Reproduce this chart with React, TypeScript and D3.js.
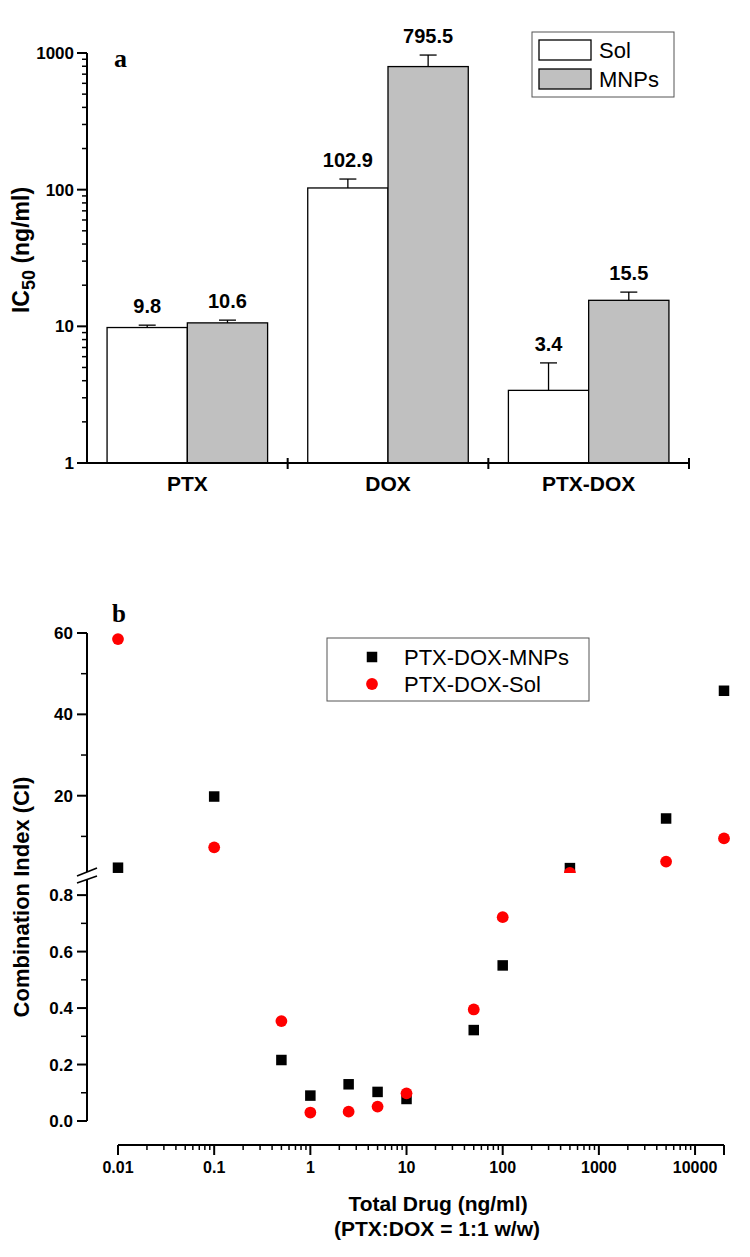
import React from 'react';
import * as d3 from 'd3';

// ---- Panel a data ----
const categories = ['PTX', 'DOX', 'PTX-DOX'];
const seriesNames = ['Sol', 'MNPs'];
const solValues = [9.8, 102.9, 3.4];
const mnpValues = [10.6, 795.5, 15.5];
const solErrTop = [10.2, 119.6, 5.4];
const mnpErrTop = [11.1, 966, 17.8];
const icTicks = [1, 10, 100, 1000];
const icTickLabels = ['1', '10', '100', '1000'];

// ---- Panel b data ----
const totalDrug = [0.01, 0.1, 0.5, 1, 2.5, 5, 10, 50, 100, 500, 5000, 20000];
const ciMNPs = [2.3, 19.8, 0.216, 0.09, 0.13, 0.103, 0.078, 0.322, 0.551, 2.2, 14.4, 45.8];
const ciSol = [58.5, 7.3, 0.354, 0.03, 0.033, 0.051, 0.098, 0.395, 0.722, 1.0, 3.8, 9.5];
const xTicks = [0.01, 0.1, 1, 10, 100, 1000, 10000];
const xTickLabels = ['0.01', '0.1', '1', '10', '100', '1000', '10000'];
const upperTicks = [20, 40, 60];
const upperMinor = [10, 30, 50];
const lowerTicks = [0, 0.2, 0.4, 0.6, 0.8];
const lowerTickLabels = ['0.0', '0.2', '0.4', '0.6', '0.8'];
const lowerMinor = [0.1, 0.3, 0.5, 0.7];
const legendB = ['PTX-DOX-MNPs', 'PTX-DOX-Sol'];

const SANS = '"Liberation Sans", Arial, sans-serif';
const SERIF = '"Liberation Serif", "Times New Roman", serif';

function logMinor(lo: number, hi: number) {
  const out: number[] = [];
  for (let d = lo; d < hi; d *= 10) {
    for (let k = 2; k <= 9; k++) {
      const v = +(d * k).toPrecision(6);
      if (v <= hi) out.push(v);
    }
  }
  return out;
}

export default function App() {
  // Panel a scales
  const aLeft = 87, aRight = 689, aTop = 53, aBottom = 463;
  const y = d3.scaleLog().domain([1, 1000]).range([aBottom, aTop]);
  const x0 = d3.scaleBand<string>().domain(categories).range([aLeft, aRight]).paddingInner(0.2).paddingOuter(0.1);
  const x1 = d3.scaleBand<string>().domain(seriesNames).range([0, x0.bandwidth()]).padding(0);
  const step = x0.step();
  const aMinor = logMinor(1, 1000);

  // Panel b scales
  const bAxisX = 87;
  const xb = d3.scaleLog().domain([0.01, 20000]).range([118, 724]);
  const yUp = d3.scaleLinear().domain([1, 60]).range([873, 633]);
  const yLow = d3.scaleLinear().domain([0, 0.85]).range([1121, 881]);
  const xAxisY = 1145;
  const bMinor = logMinor(0.01, 20000);

  const seriesVals = [solValues, mnpValues];
  const seriesErr = [solErrTop, mnpErrTop];
  const fills = ['#ffffff', '#c0c0c0'];

  const placeY = (v: number) => (v > 0.85 ? yUp(v) : yLow(v));
  const clipFor = (v: number) => (v > 0.85 ? 'url(#clipUp)' : 'url(#clipLow)');

  return (
    <svg width={750} height={1257} style={{ position: 'absolute', left: 0, top: 0, background: '#fff' }}
      fontFamily={SANS}>
      <defs>
        <clipPath id="clipUp"><rect x={88} y={600} width={662} height={273} /></clipPath>
        <clipPath id="clipLow"><rect x={88} y={880} width={662} height={260} /></clipPath>
      </defs>
      <rect x={0} y={0} width={750} height={1257} fill="#fff" />

      {/* ===== Panel a ===== */}
      {categories.map((c, i) => (
        <g key={c}>
          {seriesNames.map((s, j) => {
            const v = seriesVals[j][i];
            const e = seriesErr[j][i];
            const bx = (x0(c) as number) + (x1(s) as number);
            const bw = x1.bandwidth();
            const cx = bx + bw / 2;
            return (
              <g key={s}>
                <rect x={bx} y={y(v)} width={bw} height={aBottom - y(v)} fill={fills[j]} stroke="#000" strokeWidth={1.3} />
                <line x1={cx} x2={cx} y1={y(v)} y2={y(e)} stroke="#000" strokeWidth={1.3} />
                <line x1={cx - 8.5} x2={cx + 8.5} y1={y(e)} y2={y(e)} stroke="#000" strokeWidth={1.3} />
                <text x={cx} y={y(e) - 12} textAnchor="middle" fontWeight="bold" fontSize={20}>{String(v)}</text>
              </g>
            );
          })}
          <text x={(x0(c) as number) + x0.bandwidth() / 2} y={491} textAnchor="middle" fontWeight="bold" fontSize={21}>{c}</text>
          <line x1={aLeft + step * (i + 1)} x2={aLeft + step * (i + 1)} y1={aBottom - 5} y2={aBottom + 6} stroke="#000" strokeWidth={2} />
        </g>
      ))}
      {/* axes a */}
      <line x1={aLeft} x2={aLeft} y1={aTop} y2={aBottom} stroke="#000" strokeWidth={2} />
      <line x1={aLeft - 1} x2={aRight} y1={aBottom} y2={aBottom} stroke="#000" strokeWidth={2} />
      {icTicks.map((t, i) => (
        <g key={t}>
          <line x1={aLeft - 10} x2={aLeft} y1={y(t)} y2={y(t)} stroke="#000" strokeWidth={2} />
          <text x={aLeft - 13} y={y(t)} dy="0.36em" textAnchor="end" fontWeight="bold" fontSize={17}>{icTickLabels[i]}</text>
        </g>
      ))}
      {aMinor.map((t) => (
        <line key={t} x1={aLeft - 5} x2={aLeft} y1={y(t)} y2={y(t)} stroke="#000" strokeWidth={1.5} />
      ))}
      <text transform={`translate(29,250) rotate(-90)`} textAnchor="middle" fontWeight="bold" fontSize={23}>
        IC<tspan dy={6} fontSize={18}>50</tspan><tspan dy={-6}> (ng/ml)</tspan>
      </text>
      <text x={114} y={67} fontFamily={SERIF} fontWeight="bold" fontSize={26}>a</text>
      {/* legend a */}
      <rect x={532} y={32} width={142} height={65} fill="#fff" stroke="#555" strokeWidth={1} />
      {seriesNames.map((s, j) => (
        <g key={s}>
          <rect x={539} y={40 + j * 29} width={52} height={20} fill={fills[j]} stroke="#000" strokeWidth={1.3} />
          <text x={599} y={58 + j * 29} fontSize={22}>{s}</text>
        </g>
      ))}

      {/* ===== Panel b ===== */}
      {/* y axis upper */}
      <line x1={bAxisX} x2={bAxisX} y1={yUp(60)} y2={872} stroke="#000" strokeWidth={2} />
      <line x1={bAxisX} x2={bAxisX} y1={880} y2={yLow(0)} stroke="#000" strokeWidth={2} />
      <line x1={77} x2={97} y1={876} y2={868} stroke="#000" strokeWidth={1.6} />
      <line x1={77} x2={97} y1={883} y2={876} stroke="#000" strokeWidth={1.6} />
      {upperTicks.map((t) => (
        <g key={t}>
          <line x1={bAxisX - 10} x2={bAxisX} y1={yUp(t)} y2={yUp(t)} stroke="#000" strokeWidth={2} />
          <text x={bAxisX - 14} y={yUp(t)} dy="0.36em" textAnchor="end" fontWeight="bold" fontSize={17}>{String(t)}</text>
        </g>
      ))}
      {upperMinor.map((t) => (
        <line key={t} x1={bAxisX - 6} x2={bAxisX} y1={yUp(t)} y2={yUp(t)} stroke="#000" strokeWidth={1.5} />
      ))}
      {lowerTicks.map((t, i) => (
        <g key={t}>
          <line x1={bAxisX - 10} x2={bAxisX} y1={yLow(t)} y2={yLow(t)} stroke="#000" strokeWidth={2} />
          <text x={bAxisX - 14} y={yLow(t)} dy="0.36em" textAnchor="end" fontWeight="bold" fontSize={17}>{lowerTickLabels[i]}</text>
        </g>
      ))}
      {lowerMinor.map((t) => (
        <line key={t} x1={bAxisX - 6} x2={bAxisX} y1={yLow(t)} y2={yLow(t)} stroke="#000" strokeWidth={1.5} />
      ))}
      {/* x axis */}
      <line x1={xb(0.01)} x2={xb(20000)} y1={xAxisY} y2={xAxisY} stroke="#000" strokeWidth={2} />
      {xTicks.map((t, i) => (
        <g key={t}>
          <line x1={xb(t)} x2={xb(t)} y1={xAxisY} y2={xAxisY + 10} stroke="#000" strokeWidth={2} />
          <text x={xb(t)} y={1173} textAnchor="middle" fontWeight="bold" fontSize={16}>{xTickLabels[i]}</text>
        </g>
      ))}
      {bMinor.map((t) => (
        <line key={t} x1={xb(t)} x2={xb(t)} y1={xAxisY} y2={xAxisY + 5} stroke="#000" strokeWidth={1.5} />
      ))}
      <line x1={xb(20000)} x2={xb(20000)} y1={xAxisY} y2={xAxisY + 10} stroke="#000" strokeWidth={2} />
      <text x={438} y={1211} textAnchor="middle" fontWeight="bold" fontSize={21}>Total Drug (ng/ml)</text>
      <text x={437} y={1236} textAnchor="middle" fontWeight="bold" fontSize={21}>(PTX:DOX = 1:1 w/w)</text>
      <text transform={`translate(29,897) rotate(-90)`} textAnchor="middle" fontWeight="bold" fontSize={22}>Combination Index (CI)</text>
      <text x={112} y={622} fontFamily={SERIF} fontWeight="bold" fontSize={25}>b</text>

      {/* points */}
      {totalDrug.map((d, i) => (
        <rect key={'m' + i} x={xb(d) - 5.25} y={placeY(ciMNPs[i]) - 5.25} width={10.5} height={10.5} fill="#000"
          clipPath={clipFor(ciMNPs[i])} />
      ))}
      {totalDrug.map((d, i) => (
        <circle key={'s' + i} cx={xb(d)} cy={placeY(ciSol[i])} r={5.9} fill="#ff0000" clipPath={clipFor(ciSol[i])} />
      ))}

      {/* legend b */}
      <rect x={327} y={638} width={262} height={63} fill="#fff" stroke="#555" strokeWidth={1} />
      <rect x={372 - 5.25} y={657 - 5.25} width={10.5} height={10.5} fill="#000" />
      <circle cx={372} cy={684} r={5.9} fill="#ff0000" />
      <text x={404} y={665} fontSize={22}>{legendB[0]}</text>
      <text x={404} y={692} fontSize={22}>{legendB[1]}</text>
    </svg>
  );
}
